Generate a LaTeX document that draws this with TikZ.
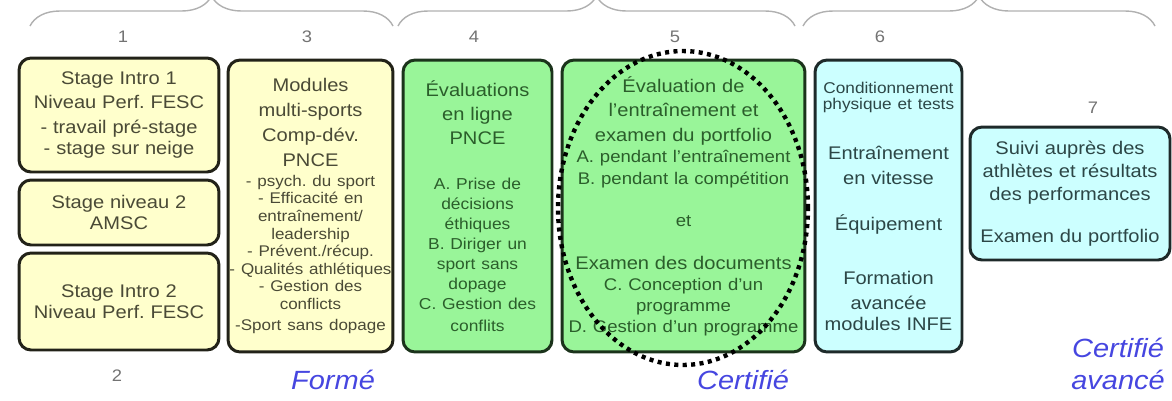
\documentclass[tikz,border=0pt]{standalone}
\usepackage{fontspec}
\setmainfont{Liberation Sans}[FakeStretch=1.1]
\usetikzlibrary{shapes.geometric,decorations.pathreplacing}
\frenchspacing
\definecolor{formefill}{HTML}{FFFFCC}
\definecolor{formeline}{HTML}{222218}
\definecolor{formetext}{HTML}{4A4A36}
\definecolor{certfill}{HTML}{99F599}
\definecolor{certline}{HTML}{1B331B}
\definecolor{certtext}{HTML}{2B5E2B}
\definecolor{avfill}{HTML}{CCFFFF}
\definecolor{avline}{HTML}{1E2A2A}
\definecolor{avtext}{HTML}{2C4646}
\definecolor{levelblue}{HTML}{4646E0}
\definecolor{bracegrey}{HTML}{B0B0B0}
\tikzset{
  box/.style={draw, rounded corners=0.24cm, line width=1.7pt, align=center, inner sep=0pt,
    execute at begin node=\setlength{\parindent}{0pt}},
  formebox/.style={box, draw=formeline, fill=formefill, text=formetext},
  certbox/.style={box, draw=certline, fill=certfill, text=certtext},
  avbox/.style={box, draw=avline, fill=avfill, text=avtext},
  stepnum/.style={text=black!55, font=\fontsize{9.5}{11}\selectfont},
  levellabel/.style={text=levelblue, align=center, font=\fontsize{15}{18.2}\selectfont\itshape},
  topbrace/.style={draw=bracegrey, line width=0.8pt, decorate, decoration={brace, amplitude=0.6cm}},
  focusring/.style={draw=black, ellipse, line width=2.5pt, dash pattern=on 2.3pt off 2.5pt, inner sep=0pt}
}
\begin{document}
\begin{tikzpicture}[x=0.02cm,y=-0.02cm]
\useasboundingbox (0,0) rectangle (1172,400);
\draw[topbrace] (30,26) -- (393,26);
\draw[topbrace] (398,26) -- (795,26);
\draw[topbrace] (803,26) -- (1155,26);
\node[stepnum] (n1) at (123,37) {1};
\node[stepnum] (n3) at (307,37) {3};
\node[stepnum] (n4) at (474,37) {4};
\node[stepnum] (n5) at (675,37) {5};
\node[stepnum] (n6) at (880,37) {6};
\node[stepnum] (n7) at (1093,108) {7};
\node[stepnum] (n2) at (117,376) {2};
\node[formebox, minimum width=4.0cm, minimum height=2.28cm, text width=3.9cm] (intro1) at (119,115)
  {\fontsize{10.4}{14}\selectfont Stage Intro 1\\Niveau Perf. FESC\\- travail pré-stage\\- stage sur neige};
\node[formebox, minimum width=4.0cm, minimum height=1.3cm, text width=3.9cm] (niveau2) at (119,212.5)
  {\fontsize{10.4}{13}\selectfont Stage niveau 2\\AMSC};
\node[formebox, minimum width=4.0cm, minimum height=1.94cm, text width=3.9cm] (intro2) at (119,301.5)
  {\fontsize{10.4}{14}\selectfont Stage Intro 2\\Niveau Perf. FESC};
\node[formebox, minimum width=3.3cm, minimum height=5.84cm, text width=3.28cm] (modules) at (310.5,206)
  {\fontsize{10.4}{14.2}\selectfont Modules\\multi-sports\\Comp-dév.\\PNCE\par
   \fontsize{8.8}{10}\selectfont\vspace{1.4pt}
   - psych. du sport\\- Efficacité en\\entraînement/\\leadership\\- Prévent./récup.\\- Qualités athlétiques\\- Gestion des\\conflicts\\-Sport sans dopage};
\node[certbox, minimum width=2.98cm, minimum height=5.84cm, text width=2.94cm] (enligne) at (477.5,206)
  {\fontsize{10.4}{13.7}\selectfont Évaluations\\en ligne\\PNCE\par
   \fontsize{9}{11.4}\selectfont\vspace{14.2pt}
   A. Prise de\\décisions\\éthiques\\B. Diriger un\\sport sans\\dopage\\C. Gestion des\\conflits};
\node[certbox, minimum width=4.86cm, minimum height=5.84cm, text width=4.82cm] (portfolio) at (683.5,206)
  {\fontsize{10.4}{14}\selectfont Évaluation de\\l'entraînement et\\examen du portfolio\par
   \fontsize{9.6}{12.2}\selectfont A. pendant l'entraînement\\B. pendant la compétition\par
   \vspace{11.8pt}et\par
   \fontsize{10.4}{14}\selectfont\vspace{10.5pt}Examen des documents\par
   \fontsize{9.6}{11.8}\selectfont C. Conception d'un\\programme\\D. Gestion d'un programme};
\node[avbox, minimum width=2.94cm, minimum height=5.84cm, text width=2.9cm] (vitesse) at (888.5,206)
  {\fontsize{8.9}{9.1}\selectfont Conditionnement\\physique et tests\par
   \fontsize{10.4}{14.2}\selectfont\vspace{14.3pt}Entraînement\\en vitesse\par
   \vspace{12.5pt}Équipement\par
   \vspace{16pt}Formation\\avancée\\modules INFE};
\node[avbox, minimum width=4.0cm, minimum height=2.66cm, text width=3.94cm] (suivi) at (1070,193.5)
  {\fontsize{10.4}{13.2}\selectfont Suivi auprès des\\athlètes et résultats\\des performances\par
   \vspace{11.8pt}Examen du portfolio};
\node[levellabel] (forme) at (333,380) {Formé};
\node[levellabel] (certifie) at (743,380) {Certifié};
\node[levellabel] (avance) at (1118,364) {Certifié\\avancé};
\node[focusring, minimum width=5cm, minimum height=6.28cm] (focus) at (683,208) {};
\end{tikzpicture}
\end{document}
